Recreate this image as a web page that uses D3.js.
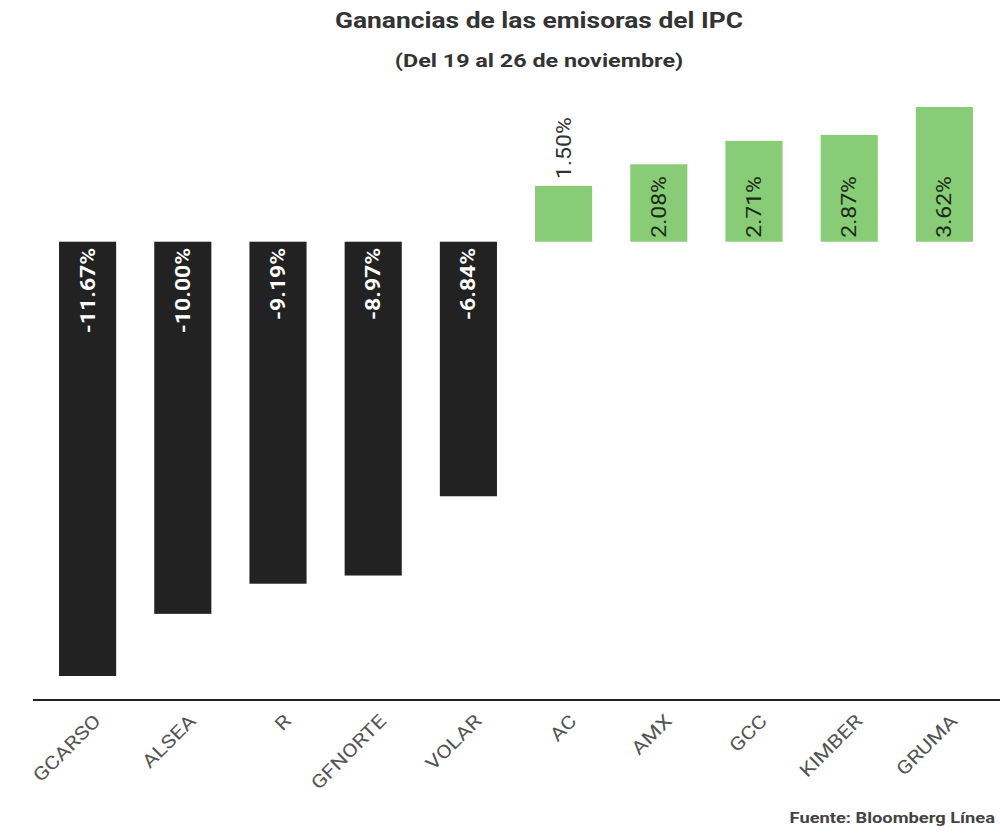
<!DOCTYPE html>
<meta charset="utf-8">
<head>
<style>
  body { margin: 0; background: white; font-family: Roboto, "Noto Sans", sans-serif; }
  svg { display: block; }
</style>
<script src="https://cdn.jsdelivr.net/npm/d3@7"></script>
</head>
<body>
<svg id="chart"></svg>
<script>
// data
let tickers = ["GCARSO", "ALSEA", "R", "GFNORTE", "VOLAR", "AC", "AMX", "GCC", "KIMBER", "GRUMA"]
let changes = [-11.67, -10.00, -9.19, -8.97, -6.84, 1.50, 2.08, 2.71, 2.87, 3.62]

let width = 1000, height = 836
let svg = d3.select("#chart").attr("width", width).attr("height", height)

let data = tickers.map((t, i) => ({ ticker: t, value: changes[i] }))

let x = d3.scaleBand()
    .domain(tickers)
    .range([40, 992])
    .paddingInner(0.4)
    .paddingOuter(0.2)

// zero line sits at y=242, -11.67 reaches y=676
let y = d3.scaleLinear()
    .domain([-11.67, 3.62])
    .range([676, 107])

// the original font runs wide, so text is stretched along its baseline
let wide = 1.2

// title
svg.append("text")
    .attr("transform", `translate(539,28) scale(${wide},1)`)
    .attr("text-anchor", "middle")
    .style("font-size", "22px").style("font-weight", "bold")
    .attr("fill", "#333")
    .text("Ganancias de las emisoras del IPC")

svg.append("text")
    .attr("transform", "translate(539,67) scale(1.23,1)")
    .attr("text-anchor", "middle")
    .style("font-size", "19px").style("font-weight", "bold")
    .attr("fill", "#333")
    .text("(Del 19 al 26 de noviembre)")

// bars
svg.selectAll(".bar")
    .data(data)
    .enter().append("rect")
    .attr("class", "bar")
    .attr("x", d => x(d.ticker))
    .attr("width", x.bandwidth())
    .attr("y", d => y(Math.max(0, d.value)))
    .attr("height", d => Math.abs(y(d.value) - y(0)))
    .attr("fill", d => d.value < 0 ? "#222222" : "#88cc77")

// value labels, rotated; too-short bars get the label above
let fmt = d => d.toFixed(2) + "%"
let outside = d => d.value > 0 && (y(0) - y(d.value)) < 65

svg.selectAll(".val")
    .data(data)
    .enter().append("text")
    .attr("class", "val")
    .attr("transform", d => {
        let cx = x(d.ticker) + x.bandwidth() / 2 + 7
        let yy = outside(d) ? y(d.value) - 7 : (d.value < 0 ? y(0) + 6 : y(0) - 4)
        return `translate(${cx},${yy}) rotate(-90) scale(1.15,1)`
    })
    .attr("text-anchor", d => d.value < 0 ? "end" : "start")
    .style("font-size", "20px")
    .attr("fill", d => d.value < 0 ? "white" : (outside(d) ? "#333" : "#1a2a14"))
    .style("font-weight", d => d.value < 0 ? "bold" : "normal")
    .text(d => fmt(d.value))

// x axis
let axis = svg.append("g")
    .attr("transform", "translate(0,700)")
    .call(d3.axisBottom(x).tickSize(0).tickPadding(0))

axis.select(".domain").remove()
axis.append("line")
    .attr("x1", 33).attr("x2", 1000)
    .attr("stroke", "#222").attr("stroke-width", 2)

axis.selectAll(".tick text")
    .attr("transform", `translate(5,13) rotate(-45) scale(${wide},1)`)
    .attr("text-anchor", "end")
    .attr("dy", "0.7em")
    .attr("x", 0).attr("y", 0)
    .style("font-size", "18.5px")
    .style("font-family", "Roboto, sans-serif")
    .attr("fill", "#555")

// source
svg.append("text")
    .attr("transform", "translate(995,823) scale(1.22,1)")
    .attr("text-anchor", "end")
    .style("font-size", "15px").style("font-weight", "bold")
    .attr("fill", "#444")
    .text("Fuente: Bloomberg Línea")
</script>
</body>
